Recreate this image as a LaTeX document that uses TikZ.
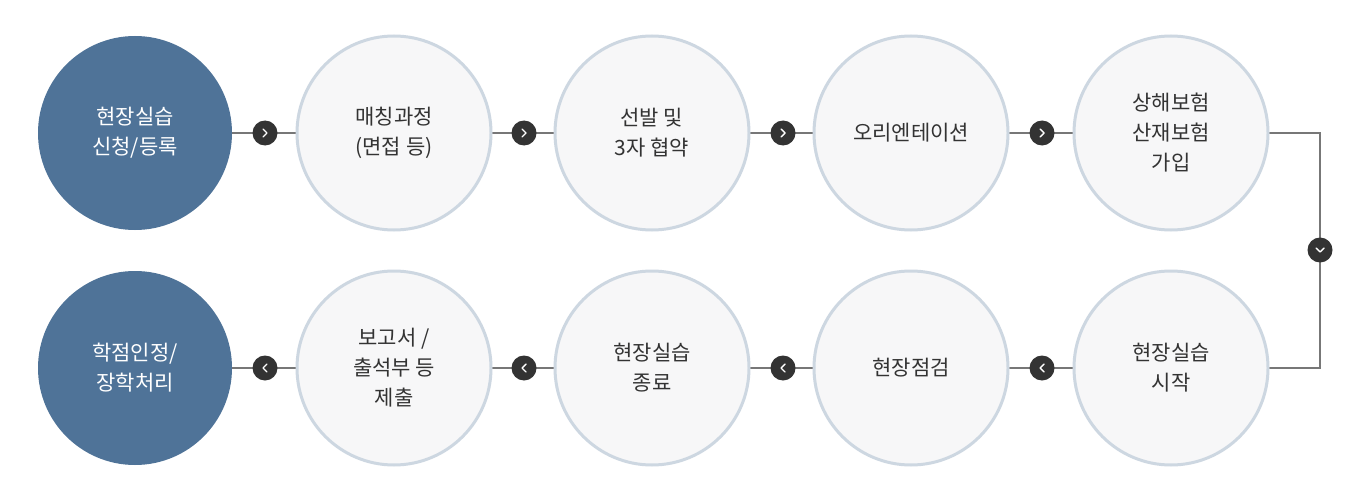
\documentclass[tikz,border=0pt]{standalone}
\usepackage{fontspec}
\setmainfont{Noto Sans CJK KR}
\definecolor{navy}{HTML}{4F7398}
\definecolor{ring}{HTML}{CDD7E1}
\definecolor{pale}{HTML}{F7F7F8}
\definecolor{ink}{HTML}{333333}
\definecolor{wire}{HTML}{777777}
\definecolor{dot}{HTML}{333333}
\begin{document}
\begin{tikzpicture}[x=1pt,y=-1pt,
  stepc/.style={circle,minimum size=194pt,inner sep=0pt,draw=ring,line width=3pt,fill=pale,text=ink,align=center,font=\fontsize{21}{30}\selectfont},
  mainc/.style={circle,minimum size=194pt,inner sep=0pt,fill=navy,text=white,align=center,font=\fontsize{21}{30}\selectfont},
  dotc/.style={circle,minimum size=25pt,inner sep=0pt,fill=dot},
  wireline/.style={draw=wire,line width=1.8pt},
  chev/.style={draw=white,line width=1.4pt,line cap=round,line join=round}]
\useasboundingbox (0,0) rectangle (1370,500);
\fill[white] (0,0) rectangle (1370,500);
% wires
\draw[wireline] (135,133) -- (1171,133);
\draw[wireline] (135,368) -- (1171,368);
\draw[wireline] (1171,133) -- (1320,133) -- (1320,368) -- (1171,368);
% circles
\node[mainc] (a1) at (135,133) {현장실습\\신청/등록};
\node[stepc] (a2) at (394,133) {매칭과정\\(면접 등)};
\node[stepc] (a3) at (652,133) {선발 및\\3자 협약};
\node[stepc] (a4) at (911,133) {오리엔테이션};
\node[stepc] (a5) at (1171,133) {상해보험\\산재보험\\가입};
\node[mainc] (b1) at (135,368) {학점인정/\\장학처리};
\node[stepc] (b2) at (394,368) {보고서 /\\출석부 등\\제출};
\node[stepc] (b3) at (652,368) {현장실습\\종료};
\node[stepc] (b4) at (911,368) {현장점검};
\node[stepc] (b5) at (1171,368) {현장실습\\시작};
% dots
\foreach \x [count=\i] in {265,524,783,1042}{
  \node[dotc] (r\i) at (\x,133) {};
  \draw[chev] (\x-2,129) -- (\x+2,133) -- (\x-2,137);
  \node[dotc] (l\i) at (\x,368) {};
  \draw[chev] (\x+2,364) -- (\x-2,368) -- (\x+2,372);
}
\node[dotc] (d) at (1320,250) {};
\draw[chev] (1316,248) -- (1320,252) -- (1324,248);
\end{tikzpicture}
\end{document}
